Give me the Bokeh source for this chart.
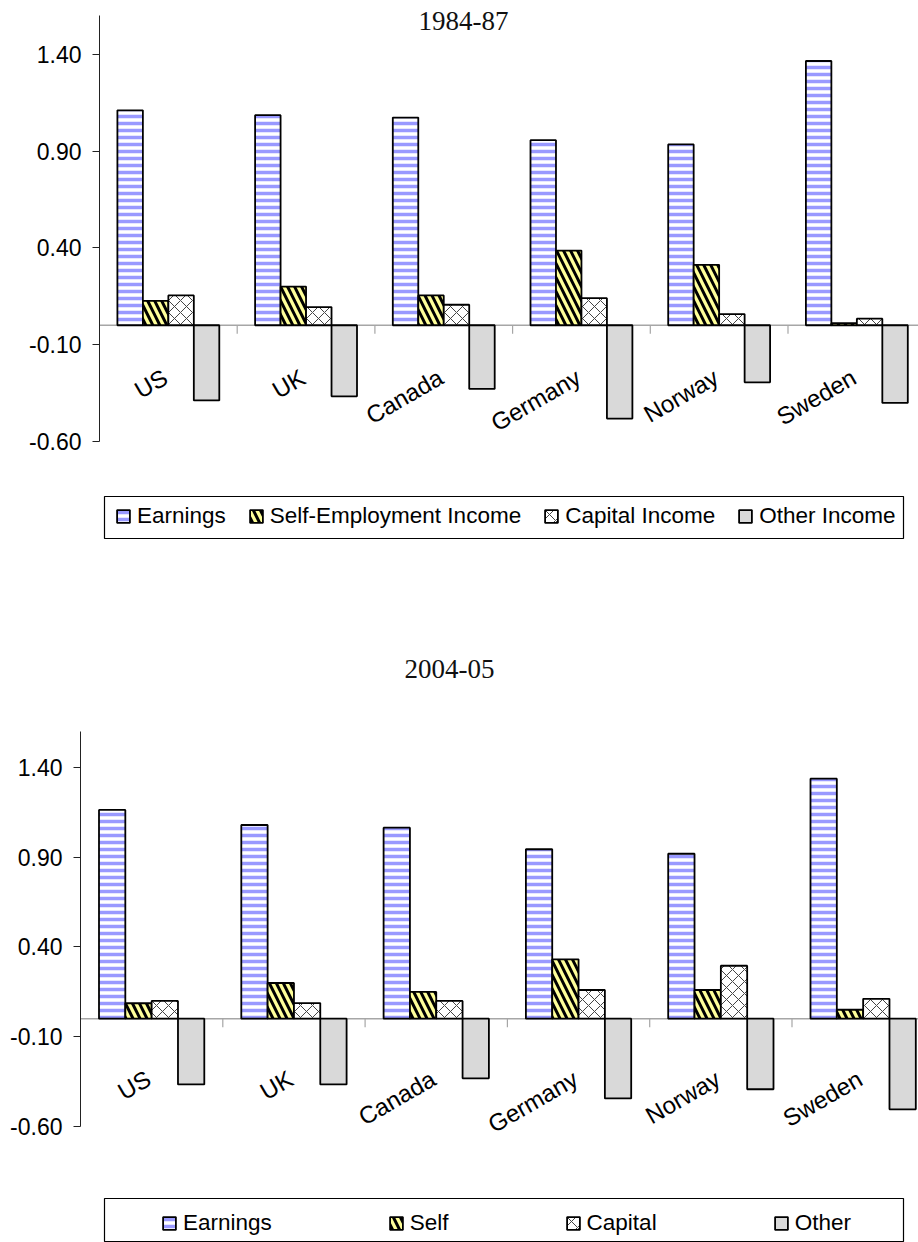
import numpy as np
from bokeh.plotting import figure
from bokeh.models import (Range1d, Span, Legend, LegendItem, BoxAnnotation, Label,
                          FixedTicker, PrintfTickFormatter, ColumnDataSource)
from bokeh.layouts import column
from bokeh.core.properties import value
from bokeh.embed import file_html
from bokeh.resources import INLINE

# ---------------- data ----------------
countries = ["US", "UK", "Canada", "Germany", "Norway", "Sweden"]
y_ticks = [-0.60, -0.10, 0.40, 0.90, 1.40]

title_top = "1984-87"
earn_8487 = [1.110, 1.085, 1.073, 0.956, 0.934, 1.365]
self_8487 = [0.126, 0.200, 0.154, 0.386, 0.312, 0.011]
cap_8487 = [0.154, 0.094, 0.106, 0.140, 0.058, 0.034]
other_8487 = [-0.388, -0.367, -0.329, -0.482, -0.295, -0.401]
legend_top = ["Earnings", "Self-Employment Income", "Capital Income", "Other Income"]

title_bottom = "2004-05"
earn_0405 = [1.163, 1.079, 1.064, 0.944, 0.919, 1.337]
self_0405 = [0.086, 0.199, 0.149, 0.331, 0.160, 0.050]
cap_0405 = [0.099, 0.087, 0.099, 0.160, 0.295, 0.111]
other_0405 = [-0.366, -0.366, -0.332, -0.444, -0.393, -0.505]
legend_bottom = ["Earnings", "Self", "Capital", "Other"]

# ---------------- styles ----------------
STYLES = [
    dict(fill_color="white", hatch_pattern="horizontal_line", hatch_color="#9999ff",
         hatch_weight=3.5, hatch_scale=7),
    dict(fill_color="#ffff99", hatch_pattern="left_diagonal_line", hatch_color="black",
         hatch_weight=3, hatch_scale=14),
    dict(fill_color="white", hatch_pattern="diagonal_cross", hatch_color="#444444",
         hatch_weight=1, hatch_scale=12),
    dict(fill_color="#d9d9d9"),
]
BAR_W = 0.185
OFFSETS = [-1.5 * BAR_W, -0.5 * BAR_W, 0.5 * BAR_W, 1.5 * BAR_W]
W, H = 918, 621
SANS = "Liberation Sans"


def make_chart(title, series, labels, frame_left, ppu, top_px, cat_px,
               label_dy, legend_loc, legend_spacing, box, title_xy):
    y_end = 1.6 + top_px / ppu
    y_start = 1.6 - (H - top_px) / ppu
    x_end = (W - frame_left) / cat_px
    p = figure(width=W, height=H, output_backend="svg", toolbar_location=None,
               x_range=Range1d(0, x_end), y_range=Range1d(y_start, y_end),
               x_axis_location=None, min_border_left=frame_left,
               min_border_right=0, min_border_top=0, min_border_bottom=0)
    p.frame_align = False
    p.xgrid.visible = False
    p.ygrid.visible = False
    p.outline_line_color = None

    ax = p.yaxis[0]
    ax.ticker = FixedTicker(ticks=y_ticks)
    ax.formatter = PrintfTickFormatter(format="%.2f")
    ax.bounds = (-0.6, 1.6)
    ax.major_label_text_font = SANS
    ax.major_label_text_font_size = "23px"
    ax.major_label_text_color = "black"
    ax.major_tick_out = 7
    ax.major_tick_in = 0
    ax.minor_tick_out = 0
    ax.minor_tick_in = 0
    ax.major_label_standoff = 11
    ax.axis_line_color = "#222222"
    ax.major_tick_line_color = "#222222"

    p.add_layout(Span(location=0, dimension="width", line_color="#a6a6a6",
                      line_width=1.5, level="underlay"))

    xc = np.arange(len(countries)) + 0.5
    bounds_x = np.arange(1, len(countries))
    p.segment(x0=bounds_x, y0=np.zeros(len(bounds_x)), x1=bounds_x,
              y1=np.full(len(bounds_x), -8.5 / ppu), line_color="#a6a6a6", line_width=1.2)

    renderers = []
    for vals, off, st in zip(series, OFFSETS, STYLES):
        src = ColumnDataSource(dict(x=xc + off, top=vals))
        r = p.vbar(x="x", top="top", bottom=0, width=BAR_W, source=src,
                   line_color="black", line_width=1.8, **st)
        renderers.append(r)

    p.text(x=xc, y=np.zeros(len(xc)), text=countries, angle=np.pi / 6,
           text_align="right", text_baseline="middle", x_offset=-3, y_offset=label_dy,
           text_font=value(SANS), text_font_size="24px", text_color="black")

    bl, br, bb, bt = box
    p.add_layout(BoxAnnotation(left=bl, right=br, bottom=bb, top=bt,
                               left_units="screen", right_units="screen",
                               bottom_units="screen", top_units="screen",
                               fill_alpha=0, line_color="black", line_width=1.2,
                               line_alpha=1))

    items = [LegendItem(label=lab, renderers=[r]) for lab, r in zip(labels, renderers)]
    leg = Legend(items=items, orientation="horizontal", location=legend_loc,
                 border_line_color=None, background_fill_alpha=0,
                 glyph_width=16, glyph_height=16, label_standoff=6,
                 spacing=legend_spacing, padding=5, margin=0,
                 label_text_font=SANS, label_text_font_size="22.5px",
                 label_text_color="black")
    p.add_layout(leg)

    tx, ty = title_xy
    p.add_layout(Label(x=tx, y=ty, x_units="screen", y_units="screen", text=title,
                       text_font="Liberation Serif", text_font_size="27px",
                       text_color="#111111", text_align="center",
                       text_baseline="middle"))
    return p


p1 = make_chart(title_top, [earn_8487, self_8487, cap_8487, other_8487], legend_top,
                frame_left=99, ppu=193.6, top_px=15, cat_px=137.7, label_dy=50,
                legend_loc=(16, 92), legend_spacing=22,
                box=(5, 804, 83, 125), title_xy=(364, 601))
p2 = make_chart(title_bottom, [earn_0405, self_0405, cap_0405, other_0405], legend_bottom,
                frame_left=80, ppu=179.5, top_px=110, cat_px=142.3, label_dy=58,
                legend_loc=(81, 6), legend_spacing=116,
                box=(24, 823, 1, 44), title_xy=(369, 574))

layout = column(p1, p2, spacing=0)
open("out.html", "w").write(file_html(layout, INLINE))
